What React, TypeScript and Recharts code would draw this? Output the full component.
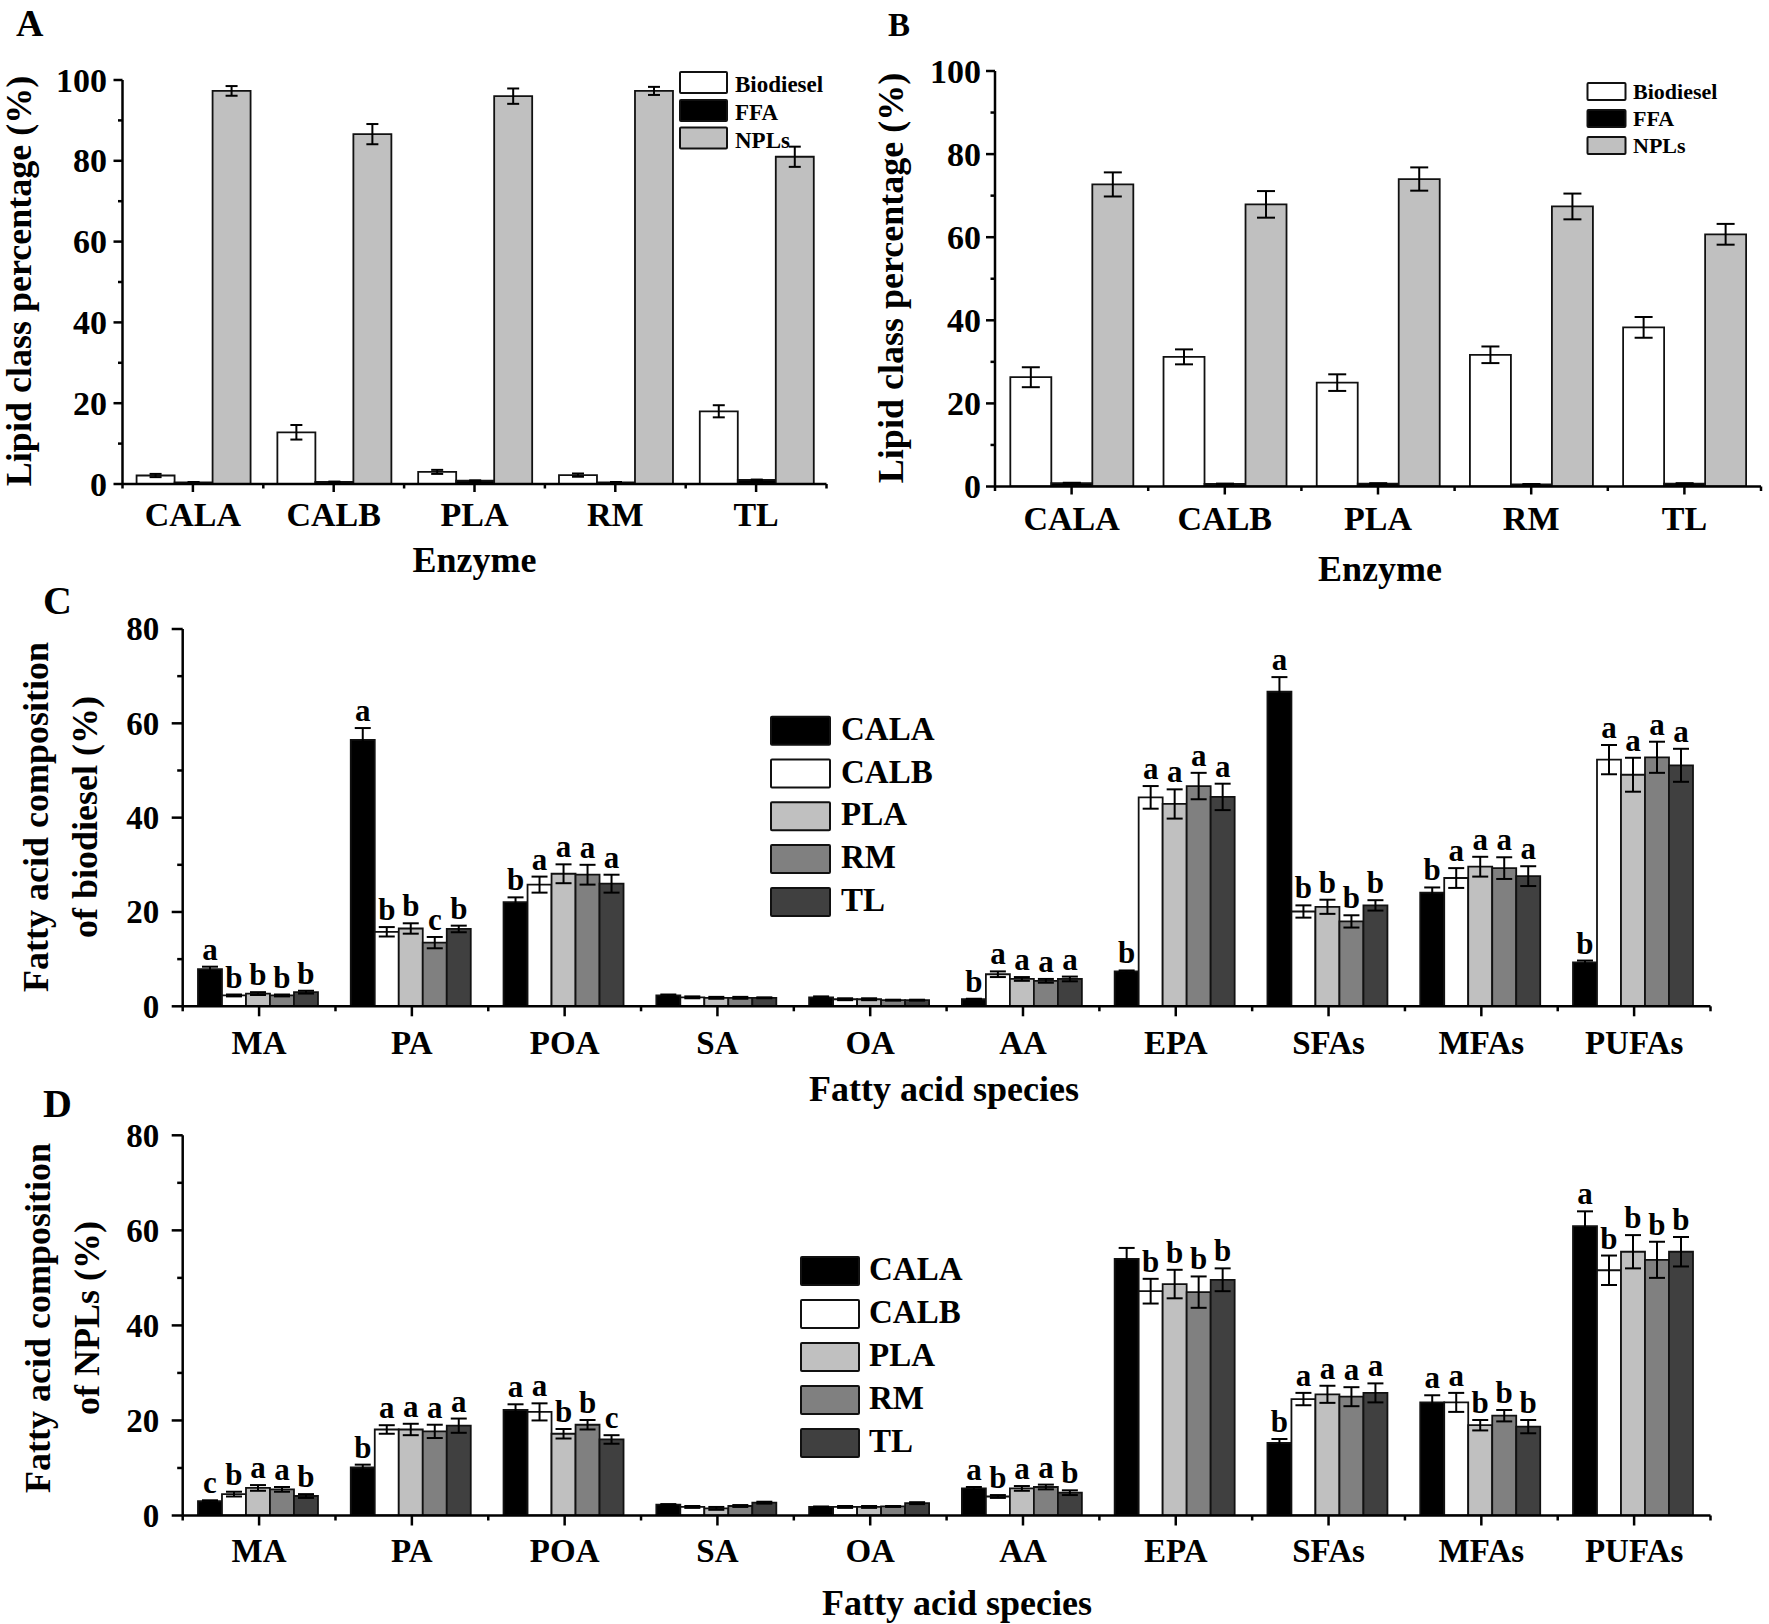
import React from 'react';
import { BarChart, Bar, XAxis, YAxis, ErrorBar, LabelList, Legend, Label } from 'recharts';

const FONT = '"Liberation Serif", "Times New Roman", Times, serif';

// ---------- Panels A & B : lipid classes by enzyme ----------
const enzymes = ['CALA', 'CALB', 'PLA', 'RM', 'TL'];
const lipidClasses = ['Biodiesel', 'FFA', 'NPLs'];
const lipidFills = ['#ffffff', '#000000', '#c0c0c0'];

const biodieselA = [2.1, 12.8, 3.0, 2.2, 18.0];
const biodieselErrA = [0.4, 1.8, 0.5, 0.4, 1.5];
const ffaA = [0.4, 0.5, 0.8, 0.4, 1.0];
const ffaErrA = [0.1, 0.1, 0.1, 0.1, 0.1];
const nplsA = [97.3, 86.6, 96.0, 97.3, 81.0];
const nplsErrA = [1.2, 2.5, 1.9, 1.0, 2.5];

const biodieselB = [26.3, 31.2, 25.0, 31.7, 38.3];
const biodieselErrB = [2.4, 1.8, 2.0, 2.0, 2.5];
const ffaB = [0.8, 0.6, 0.7, 0.5, 0.7];
const ffaErrB = [0.1, 0.1, 0.1, 0.1, 0.1];
const nplsB = [72.7, 67.9, 74.0, 67.4, 60.7];
const nplsErrB = [2.9, 3.2, 2.8, 3.1, 2.5];

const lipidTicks = [0, 10, 20, 30, 40, 50, 60, 70, 80, 90, 100];

// ---------- Panels C & D : fatty acid species ----------
const species = ['MA', 'PA', 'POA', 'SA', 'OA', 'AA', 'EPA', 'SFAs', 'MFAs', 'PUFAs'];
const enzymeFills = ['#000000', '#ffffff', '#c0c0c0', '#808080', '#404040'];

// C: biodiesel
const calaC = [7.9, 56.5, 22.1, 2.3, 1.9, 1.5, 7.4, 66.7, 24.1, 9.3];
const calbC = [2.3, 15.8, 25.8, 1.9, 1.5, 6.8, 44.3, 20.1, 27.2, 52.3];
const plaC = [2.7, 16.5, 28.1, 1.8, 1.5, 5.8, 42.9, 21.1, 29.6, 49.1];
const rmC = [2.3, 13.5, 27.9, 1.8, 1.3, 5.4, 46.7, 18.0, 29.3, 52.8];
const tlC = [3.0, 16.4, 26.0, 1.8, 1.3, 5.8, 44.4, 21.4, 27.6, 51.1];
const calaErrC = [0.5, 2.5, 1.0, 0.2, 0.2, 0.1, 0.2, 3.1, 1.1, 0.4];
const calbErrC = [0.2, 1.0, 1.7, 0.2, 0.2, 0.6, 2.4, 1.3, 2.1, 3.1];
const plaErrC = [0.3, 1.1, 2.0, 0.2, 0.2, 0.4, 3.1, 1.5, 2.1, 3.6];
const rmErrC = [0.2, 1.2, 2.1, 0.2, 0.1, 0.4, 2.8, 1.3, 2.3, 3.3];
const tlErrC = [0.3, 0.7, 1.9, 0.1, 0.1, 0.5, 2.8, 1.1, 2.1, 3.5];
const calaLetC = ['a', 'a', 'b', '', '', 'b', 'b', 'a', 'b', 'b'];
const calbLetC = ['b', 'b', 'a', '', '', 'a', 'a', 'b', 'a', 'a'];
const plaLetC = ['b', 'b', 'a', '', '', 'a', 'a', 'b', 'a', 'a'];
const rmLetC = ['b', 'c', 'a', '', '', 'a', 'a', 'b', 'a', 'a'];
const tlLetC = ['b', 'b', 'a', '', '', 'a', 'a', 'b', 'a', 'a'];

// D: NPLs
const calaD = [3.0, 10.1, 22.2, 2.3, 1.8, 5.7, 54.0, 15.3, 23.8, 60.9];
const calbD = [4.5, 18.1, 21.8, 1.8, 1.8, 4.0, 47.2, 24.5, 23.8, 51.6];
const plaD = [5.8, 18.1, 17.2, 1.5, 1.8, 5.7, 48.7, 25.5, 19.0, 55.5];
const rmD = [5.5, 17.7, 19.1, 2.0, 1.9, 6.0, 47.0, 25.0, 21.0, 53.8];
const tlD = [4.1, 18.9, 16.0, 2.7, 2.6, 4.8, 49.6, 25.8, 18.7, 55.5];
const calaErrD = [0.2, 0.6, 1.2, 0.1, 0.1, 0.3, 2.3, 0.8, 1.5, 3.1];
const calbErrD = [0.5, 0.9, 1.8, 0.2, 0.2, 0.3, 2.6, 1.3, 2.0, 3.1];
const plaErrD = [0.6, 1.2, 1.0, 0.3, 0.2, 0.5, 3.0, 1.8, 1.1, 3.5];
const rmErrD = [0.5, 1.4, 1.0, 0.2, 0.1, 0.5, 3.3, 2.0, 1.2, 3.8];
const tlErrD = [0.4, 1.5, 0.9, 0.2, 0.2, 0.5, 2.4, 2.0, 1.4, 3.1];
const calaLetD = ['c', 'b', 'a', '', '', 'a', '', 'b', 'a', 'a'];
const calbLetD = ['b', 'a', 'a', '', '', 'b', 'b', 'a', 'a', 'b'];
const plaLetD = ['a', 'a', 'b', '', '', 'a', 'b', 'a', 'b', 'b'];
const rmLetD = ['a', 'a', 'b', '', '', 'a', 'b', 'a', 'b', 'b'];
const tlLetD = ['b', 'a', 'c', '', '', 'b', 'b', 'a', 'b', 'b'];

const faTicks = [0, 10, 20, 30, 40, 50, 60, 70, 80];

// ---------- table builders ----------
const buildLipid = (vals: number[][], errs: number[][]) =>
  enzymes.map((name, i) => {
    const row: any = { name };
    lipidClasses.forEach((k, j) => {
      row[k] = vals[j][i];
      row[k + '_err'] = errs[j][i];
    });
    return row;
  });

const buildFA = (vals: number[][], errs: number[][], lets: string[][]) =>
  species.map((name, i) => {
    const row: any = { name };
    enzymes.forEach((k, j) => {
      row[k] = vals[j][i];
      row[k + '_err'] = errs[j][i];
      row[k + '_let'] = lets[j][i];
    });
    return row;
  });

const dataA = buildLipid([biodieselA, ffaA, nplsA], [biodieselErrA, ffaErrA, nplsErrA]);
const dataB = buildLipid([biodieselB, ffaB, nplsB], [biodieselErrB, ffaErrB, nplsErrB]);
const dataC = buildFA(
  [calaC, calbC, plaC, rmC, tlC],
  [calaErrC, calbErrC, plaErrC, rmErrC, tlErrC],
  [calaLetC, calbLetC, plaLetC, rmLetC, tlLetC]
);
const dataD = buildFA(
  [calaD, calbD, plaD, rmD, tlD],
  [calaErrD, calbErrD, plaErrD, rmErrD, tlErrD],
  [calaLetD, calbLetD, plaLetD, rmLetD, tlLetD]
);

// ---------- generic panel ----------
type LegendCfg = {
  x: number; y: number; w: number; h: number;
  boxX: number; boxW: number; boxH: number; rowTops: number[];
  textX: number; textDy: number; font: number;
};

type PanelProps = {
  left: number; top: number; width: number; height: number;
  plotLeft: number; plotRight: number; plotTop: number; plotBottom: number;
  data: any[]; keys: string[]; fills: string[];
  yMax: number; yTicks: number[]; majorStep: number;
  tickFont: number; catFont: number; tickLabelGap: number; catBaseline: number;
  yMajor: number; yMinor: number; xMajor: number; xMinor: number;
  errWidth: number; letters: boolean;
  yTitle: { lines: string[]; xs: number[]; cy: number; size: number };
  xTitle: { text: string; cx: number; y: number; size: number };
  legend: LegendCfg;
};

const TS = 11;
const TM = 4;

function Panel(p: PanelProps) {
  const band = (p.plotRight - p.plotLeft) / p.data.length;
  const lastName = p.data[p.data.length - 1].name;

  const renderYTick = (props: any) => {
    const { x, y, payload } = props;
    const ax = x + TS + TM;
    const major = payload.value % p.majorStep === 0;
    return (
      <g>
        <line x1={ax - (major ? p.yMajor : p.yMinor)} x2={ax} y1={y} y2={y} stroke="#000" strokeWidth={2.5} />
        {major && (
          <text x={ax - p.tickLabelGap} y={y} dy="0.34em" textAnchor="end" fontFamily={FONT}
            fontWeight="bold" fontSize={p.tickFont} fill="#000">
            {payload.value}
          </text>
        )}
      </g>
    );
  };

  const renderXTick = (props: any) => {
    const { x, y, payload } = props;
    const ay = y - TS - TM;
    const half = band / 2;
    const last = payload.value === lastName;
    return (
      <g>
        <line x1={x} x2={x} y1={ay} y2={ay + p.xMajor} stroke="#000" strokeWidth={2.5} />
        <line x1={x - half} x2={x - half} y1={ay} y2={ay + p.xMinor} stroke="#000" strokeWidth={2.5} />
        {last && <line x1={x + half} x2={x + half} y1={ay} y2={ay + p.xMinor} stroke="#000" strokeWidth={2.5} />}
        <text x={x} y={ay + p.catBaseline} textAnchor="middle" fontFamily={FONT} fontWeight="bold"
          fontSize={p.catFont} fill="#000">
          {payload.value}
        </text>
      </g>
    );
  };

  const makeLetter = (key: string) => (props: any) => {
    const vb = props.viewBox && props.viewBox.width != null ? props.viewBox : props;
    const { x, y, width, height } = vb;
    const row = props.index != null ? p.data[props.index] : props.payload;
    if (!row) return null;
    const letter = row[key + '_let'];
    if (!letter) return null;
    const val = row[key];
    const err = row[key + '_err'];
    const top = Math.min(y, y + height);
    const h = Math.abs(height);
    const ppu = val > 0 ? h / val : 0;
    const yErr = top - err * ppu;
    return (
      <text x={x + width / 2} y={yErr - 7} textAnchor="middle" fontFamily={FONT} fontWeight="bold"
        fontSize={31} fill="#000">
        {letter}
      </text>
    );
  };

  const lg = p.legend;
  const legendContent = () => (
    <svg width={lg.w} height={lg.h} style={{ display: 'block' }}>
      {p.keys.map((k, i) => (
        <g key={k}>
          <rect x={lg.boxX - lg.x} y={lg.rowTops[i] - lg.y} width={lg.boxW} height={lg.boxH}
            fill={p.fills[i]} stroke="#111" strokeWidth={2} rx={1} />
          <text x={lg.textX - lg.x} y={lg.rowTops[i] - lg.y + lg.textDy} fontFamily={FONT}
            fontWeight="bold" fontSize={lg.font} fill="#000">
            {k}
          </text>
        </g>
      ))}
    </svg>
  );

  return (
    <div style={{ position: 'absolute', left: p.left, top: p.top, width: p.width, height: p.height }}>
      <BarChart
        width={p.width}
        height={p.height}
        data={p.data}
        margin={{ top: p.plotTop, right: p.width - p.plotRight, bottom: 0, left: 0 }}
        barGap={0}
        barCategoryGap="10%"
      >
        <XAxis
          dataKey="name"
          interval={0}
          height={p.height - p.plotBottom}
          tickSize={TS}
          tickMargin={TM}
          tickLine={false}
          axisLine={{ stroke: '#000', strokeWidth: 2.5 }}
          tick={renderXTick}
        >
          <Label
            content={() => (
              <text x={p.xTitle.cx} y={p.xTitle.y} textAnchor="middle" fontFamily={FONT}
                fontWeight="bold" fontSize={p.xTitle.size} fill="#000">
                {p.xTitle.text}
              </text>
            )}
          />
        </XAxis>
        <YAxis
          type="number"
          domain={[0, p.yMax]}
          ticks={p.yTicks}
          interval={0}
          width={p.plotLeft}
          tickSize={TS}
          tickMargin={TM}
          tickLine={false}
          axisLine={{ stroke: '#000', strokeWidth: 2.5 }}
          tick={renderYTick}
          allowDataOverflow
        >
          <Label
            content={() => (
              <g>
                {p.yTitle.lines.map((t, i) => (
                  <text key={i} x={p.yTitle.xs[i]} y={p.yTitle.cy}
                    transform={`rotate(-90, ${p.yTitle.xs[i]}, ${p.yTitle.cy})`}
                    textAnchor="middle" fontFamily={FONT} fontWeight="bold"
                    fontSize={p.yTitle.size} fill="#000">
                    {t}
                  </text>
                ))}
              </g>
            )}
          />
        </YAxis>
        {p.keys.map((k, i) => (
          <Bar key={k} dataKey={k} name={k} fill={p.fills[i]} stroke="#111" strokeWidth={1.8}
            isAnimationActive={false}>
            <ErrorBar dataKey={k + '_err'} width={p.errWidth} stroke="#000" strokeWidth={2}
              direction="y" isAnimationActive={false} />
            {p.letters && <LabelList dataKey={k + '_let'} content={makeLetter(k)} />}
          </Bar>
        ))}
        <Legend
          layout="horizontal"
          verticalAlign="middle"
          align="center"
          wrapperStyle={{ position: 'absolute', left: lg.x, top: lg.y, width: lg.w, height: lg.h, margin: 0, padding: 0 }}
          content={legendContent}
        />
      </BarChart>
    </div>
  );
}

export default function App() {
  return (
    <div style={{ position: 'absolute', left: 0, top: 0, width: 1769, height: 1624, background: '#fff' }}>
      <Panel
        left={0} top={0} width={840} height={600}
        plotLeft={122.5} plotRight={826.5} plotTop={80} plotBottom={484}
        data={dataA} keys={lipidClasses} fills={lipidFills}
        yMax={100} yTicks={lipidTicks} majorStep={20}
        tickFont={34} catFont={34} tickLabelGap={15.5} catBaseline={42}
        yMajor={9} yMinor={4.5} xMajor={8} xMinor={4.5}
        errWidth={6} letters={false}
        yTitle={{ lines: ['Lipid class percentage (%)'], xs: [31], cy: 281, size: 36 }}
        xTitle={{ text: 'Enzyme', cx: 474.5, y: 572, size: 36 }}
        legend={{ x: 675, y: 66, w: 160, h: 90, boxX: 680, boxW: 47, boxH: 21, rowTops: [72, 100, 127.5], textX: 735, textDy: 20, font: 23 }}
      />
      <Panel
        left={860} top={0} width={909} height={600}
        plotLeft={135} plotRight={901} plotTop={71} plotBottom={486.5}
        data={dataB} keys={lipidClasses} fills={lipidFills}
        yMax={100} yTicks={lipidTicks} majorStep={20}
        tickFont={34} catFont={34} tickLabelGap={14} catBaseline={43.5}
        yMajor={9} yMinor={4.5} xMajor={8} xMinor={4.5}
        errWidth={9} letters={false}
        yTitle={{ lines: ['Lipid class percentage (%)'], xs: [43], cy: 278, size: 36 }}
        xTitle={{ text: 'Enzyme', cx: 520, y: 581, size: 36 }}
        legend={{ x: 720, y: 78, w: 150, h: 82, boxX: 727.5, boxW: 38, boxH: 17, rowTops: [83, 110, 137], textX: 773, textDy: 16, font: 22 }}
      />
      <Panel
        left={0} top={585} width={1769} height={525}
        plotLeft={182.7} plotRight={1710.5} plotTop={44} plotBottom={421.3}
        data={dataC} keys={enzymes} fills={enzymeFills}
        yMax={80} yTicks={faTicks} majorStep={20}
        tickFont={33} catFont={33} tickLabelGap={23.5} catBaseline={47.5}
        yMajor={11} yMinor={5.5} xMajor={10} xMinor={5}
        errWidth={8} letters={true}
        yTitle={{ lines: ['Fatty acid composition', 'of biodiesel (%)'], xs: [48, 97], cy: 232, size: 36 }}
        xTitle={{ text: 'Fatty acid species', cx: 944, y: 516, size: 36 }}
        legend={{ x: 765, y: 125, w: 200, h: 215, boxX: 771, boxW: 59, boxH: 28, rowTops: [131.7, 174.5, 217.3, 260, 303], textX: 841, textDy: 23, font: 33 }}
      />
      <Panel
        left={0} top={1090} width={1769} height={534}
        plotLeft={182.7} plotRight={1710.5} plotTop={45.3} plotBottom={425.5}
        data={dataD} keys={enzymes} fills={enzymeFills}
        yMax={80} yTicks={faTicks} majorStep={20}
        tickFont={33} catFont={33} tickLabelGap={23.5} catBaseline={46.5}
        yMajor={11} yMinor={5.5} xMajor={10} xMinor={5}
        errWidth={8} letters={true}
        yTitle={{ lines: ['Fatty acid composition', 'of NPLs (%)'], xs: [50, 99], cy: 228, size: 36 }}
        xTitle={{ text: 'Fatty acid species', cx: 957, y: 525, size: 36 }}
        legend={{ x: 795, y: 160, w: 200, h: 215, boxX: 801, boxW: 58, boxH: 28, rowTops: [167, 210, 253, 296, 339], textX: 869, textDy: 23, font: 33 }}
      />
      <svg width={1769} height={1624} style={{ position: 'absolute', left: 0, top: 0, pointerEvents: 'none' }}>
        <text x={16} y={36} fontFamily={FONT} fontWeight="bold" fontSize={38} fill="#000">A</text>
        <text x={888} y={36} fontFamily={FONT} fontWeight="bold" fontSize={33} fill="#000">B</text>
        <text x={43} y={614} fontFamily={FONT} fontWeight="bold" fontSize={40} fill="#000">C</text>
        <text x={43} y={1117} fontFamily={FONT} fontWeight="bold" fontSize={40} fill="#000">D</text>
      </svg>
    </div>
  );
}
